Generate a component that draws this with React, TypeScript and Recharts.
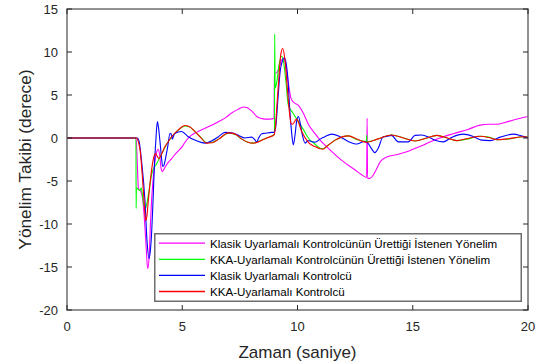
import React from 'react';
import { LineChart, Line, XAxis, YAxis } from 'recharts';

// Time (s) and heading (deg) samples
const classicDesiredT = [0, 2.98, 3.0, 3.05, 3.1, 3.2, 3.3, 3.36, 3.43, 3.5, 3.57, 3.62, 3.67, 3.73, 3.79, 3.89, 3.96, 4.02, 4.08, 4.14, 4.25, 4.4, 4.54, 4.69, 4.83, 5.0, 5.12, 5.3, 5.5, 5.8, 6.13, 6.57, 6.9, 7.14, 7.4, 7.65, 7.8, 7.94, 8.1, 8.23, 8.4, 8.59, 8.8, 8.98, 9.0, 9.1, 9.2, 9.3, 9.41, 9.5, 9.6, 9.72, 9.85, 10.04, 10.25, 10.47, 10.76, 11.0, 11.34, 11.92, 12.49, 12.8, 13.0, 13.02, 13.04, 13.12, 13.29, 13.45, 13.58, 13.87, 14.37, 14.74, 15.3, 15.8, 16.18, 16.76, 17.4, 17.92, 18.3, 18.64, 19.0, 19.37, 20];
const classicDesiredV = [0, 0, 0, -3, -5.9, -6.2, -7.5, -9.5, -12.5, -15.2, -13.5, -10, -7.2, -5, -3.3, -1.6, -1.3, -2.0, -3.5, -3.9, -3.4, -2.8, -2.4, -1.9, -1.5, -1.0, -0.5, 0.1, 0.5, 0.9, 1.3, 1.9, 2.4, 2.9, 3.3, 3.6, 3.55, 3.3, 2.9, 2.5, 2.3, 2.2, 2.2, 2.3, 7.5, 7.6, 8.2, 9.0, 9.3, 8.3, 6.5, 4.6, 4.1, 3.8, 2.9, 1.6, 0.5, -0.3, -1.2, -2.6, -3.7, -4.3, -4.6, 2.3, -4.7, -4.7, -4.3, -3.5, -2.8, -2.2, -1.9, -1.6, -1.0, -0.4, 0.0, 0.5, 1.0, 1.5, 1.6, 1.6, 1.8, 2.1, 2.5];

const kkaDesiredT = [0, 2.99, 3.0, 3.01, 3.1, 3.17, 3.22, 3.3, 3.38, 3.45, 3.56, 3.7, 3.89, 4.11, 4.4, 4.6, 4.76, 4.95, 5.12, 5.3, 5.55, 5.8, 6.06, 6.3, 6.6, 7.0, 7.3, 7.57, 7.85, 8.08, 8.3, 8.66, 8.98, 9.0, 9.01, 9.03, 9.1, 9.2, 9.31, 9.4, 9.5, 9.6, 9.8, 10.04, 10.25, 10.47, 10.75, 10.98, 11.1, 11.3, 11.63, 12.2, 12.6, 12.99, 13.0, 13.01, 13.4, 14.08, 14.6, 15.1, 15.6, 16.04, 16.5, 16.9, 17.4, 17.92, 18.3, 18.64, 19.1, 19.8, 20];
const kkaDesiredV = [0, 0, -8.2, -5.8, -6.0, -6.1, -5.8, -7.2, -8.2, -7.8, -6.1, -3.9, -3.0, -1.8, -0.4, 0.3, 0.75, 1.2, 1.4, 1.3, 0.75, 0.1, -0.55, -0.5, -0.1, 0.55, 0.4, -0.1, -0.5, -0.6, -0.4, 0.0, 0.4, 0.45, 12.1, 5.8, 6.5, 8.5, 9.5, 8.8, 6.5, 3.85, 2.9, 1.9, 1.0, 0.0, -0.7, -1.2, -1.25, -0.9, -0.25, 0.25, -0.2, -0.4, 0.3, -0.45, -0.2, 0.35, 0.0, -0.35, 0.0, 0.3, 0.0, -0.3, -0.1, 0.2, 0.1, -0.2, -0.15, 0.15, 0.15];

const classicCtrlT = [0, 3.05, 3.12, 3.24, 3.38, 3.47, 3.56, 3.62, 3.67, 3.73, 3.79, 3.85, 3.92, 3.97, 4.03, 4.1, 4.15, 4.2, 4.28, 4.37, 4.47, 4.52, 4.57, 4.63, 4.69, 4.97, 5.26, 5.6, 5.99, 6.3, 6.57, 6.86, 7.14, 7.45, 7.72, 8.01, 8.15, 8.23, 8.3, 8.45, 8.59, 8.88, 8.98, 9.05, 9.15, 9.25, 9.35, 9.43, 9.5, 9.57, 9.67, 9.75, 9.82, 9.9, 9.96, 10.04, 10.12, 10.21, 10.33, 10.45, 10.6, 10.76, 11.0, 11.19, 11.48, 11.84, 12.2, 12.57, 12.9, 13.05, 13.2, 13.36, 13.5, 13.72, 13.8, 14.08, 14.37, 14.81, 15.1, 15.39, 15.7, 16.0, 16.33, 16.7, 17.2, 17.6, 17.99, 18.35, 18.8, 19.37, 19.7, 20];
const classicCtrlV = [0, 0, -0.3, -2.8, -7.2, -11.9, -14.0, -13.0, -11.1, -7.5, -3.3, -0.5, 1.9, 1.2, -0.3, -2.3, -3.3, -3.2, -2.3, -1.0, 0.55, 0.45, -0.15, 0.3, 0.55, 0.75, 0.15, -0.3, -0.6, -0.3, 0.15, 0.65, 0.6, 0.3, 0.0, 0.1, -0.2, -0.5, -0.1, 0.5, 0.55, 0.65, 0.65, 1.2, 4.5, 7.8, 9.0, 9.3, 8.8, 7.3, 3.1, 0.5, -0.8, 0.5, 1.9, 2.5, 1.7, 0.35, -0.6, -0.3, -0.4, -0.5, -0.1, 0.15, 0.45, 0.15, -0.4, -0.7, -0.4, -0.6, -1.2, -1.7, -1.2, 0.15, 0.15, 0.3, -0.45, -0.45, 0.3, 0.35, 0.1, -0.3, -0.45, 0.1, 0.45, 0.2, -0.25, -0.3, 0.1, 0.45, 0.25, 0.0];

const kkaCtrlT = [0, 3.02, 3.1, 3.17, 3.27, 3.34, 3.41, 3.47, 3.53, 3.6, 3.67, 3.79, 3.84, 3.89, 3.99, 4.1, 4.25, 4.4, 4.54, 4.83, 5.12, 5.3, 5.55, 5.8, 6.06, 6.3, 6.6, 7.0, 7.3, 7.57, 7.85, 8.08, 8.3, 8.66, 8.98, 9.05, 9.1, 9.2, 9.28, 9.36, 9.45, 9.57, 9.65, 9.72, 9.78, 9.96, 10.18, 10.47, 10.76, 10.98, 11.1, 11.3, 11.63, 12.2, 12.6, 13.0, 13.5, 14.08, 14.6, 15.1, 15.6, 16.04, 16.5, 16.9, 17.4, 17.92, 18.3, 18.64, 19.1, 19.8, 20];
const kkaCtrlV = [0, 0, -0.5, -1.4, -4.5, -7.2, -9.6, -9.0, -7.2, -5.3, -3.7, -2.0, -1.8, -2.0, -2.4, -1.9, -1.0, -0.4, 0.15, 0.95, 1.45, 1.35, 0.75, 0.05, -0.6, -0.55, -0.1, 0.6, 0.45, -0.1, -0.5, -0.6, -0.45, 0.0, 0.35, 1.5, 3.5, 7.3, 9.8, 10.4, 9.2, 5.4, 3.0, 1.7, 1.6, 2.2, 0.75, -0.5, -1.0, -1.25, -1.3, -0.9, -0.25, 0.25, -0.15, -0.5, -0.1, 0.35, 0.0, -0.35, 0.0, 0.3, 0.0, -0.3, -0.05, 0.2, 0.05, -0.2, -0.1, 0.15, 0.1];

const xTicks = [0, 5, 10, 15, 20];
const yTicks = [-20, -15, -10, -5, 0, 5, 10, 15];

const seriesNames = [
  'Klasik Uyarlamalı Kontrolcünün Ürettiği İstenen Yönelim',
  'KKA-Uyarlamalı Kontrolcünün Ürettiği İstenen Yönelim',
  'Klasik Uyarlamalı Kontrolcü',
  'KKA-Uyarlamalı Kontrolcü',
];
const seriesColors = ['#ff00ff', '#00ff00', '#0000ff', '#ff0000'];

const toData = (t: number[], v: number[]) => t.map((x, i) => ({ t: x, v: v[i] }));

const FONT = '"Liberation Sans", Arial, Helvetica, sans-serif';
const AXIS_COLOR = '#262626';
const BOX_COLOR = '#6e6e6e';
const X_MIN = 0, X_MAX = 20, Y_MIN = -20, Y_MAX = 15;

// chart geometry (same numbers feed the chart margins and the axis-box frame)
const W = 545, H = 364;
const M = { top: 9, right: 17, bottom: 24, left: 0 };
const Y_AXIS_W = 67, X_AXIS_H = 30;
const PL = M.left + Y_AXIS_W, PR = W - M.right, PT = M.top, PB = H - M.bottom - X_AXIS_H;
const PW = PR - PL, PH = PB - PT;
const PAD = 3;
const fx = (x: number) => PAD + ((x - X_MIN) / (X_MAX - X_MIN)) * PW;
const fy = (y: number) => PAD + PH - ((y - Y_MIN) / (Y_MAX - Y_MIN)) * PH;
const TICK = 5;

// Axis box: frame + inward ticks on all four sides, in a small svg over the plot area
const AxisBox = () => (
  <svg width={PW + 2 * PAD} height={PH + 2 * PAD} style={{ display: 'block' }}>
    <rect x={PAD} y={PAD} width={PW} height={PH} fill="none" stroke={BOX_COLOR} strokeWidth={1.5} />
    {xTicks.map((x) => (
      <g key={'x' + x}>
        <line x1={fx(x)} x2={fx(x)} y1={PAD} y2={PAD + TICK} stroke={AXIS_COLOR} strokeWidth={1} />
        <line x1={fx(x)} x2={fx(x)} y1={PAD + PH} y2={PAD + PH - TICK} stroke={AXIS_COLOR} strokeWidth={1} />
      </g>
    ))}
    {yTicks.map((y) => (
      <g key={'y' + y}>
        <line x1={PAD} x2={PAD + TICK} y1={fy(y)} y2={fy(y)} stroke={AXIS_COLOR} strokeWidth={1} />
        <line x1={PAD + PW} x2={PAD + PW - TICK} y1={fy(y)} y2={fy(y)} stroke={AXIS_COLOR} strokeWidth={1} />
      </g>
    ))}
  </svg>
);

const LegendBox = () => (
  <svg width={369} height={70} style={{ display: 'block' }}>
    <rect x={0.75} y={0.75} width={366.5} height={67.5} fill="#fff" stroke={BOX_COLOR} strokeWidth={1.5} />
    {seriesNames.map((name, i) => {
      const cy = 10.2 + i * 16.1;
      return (
        <g key={name}>
          <line x1={5} x2={51} y1={cy} y2={cy} stroke={seriesColors[i]} strokeWidth={1.3} />
          <text x={56} y={cy} dominantBaseline="central" fontFamily={FONT} fontSize={11.6} fill="#000">
            {name}
          </text>
        </g>
      );
    })}
  </svg>
);

export default function App() {
  const sets = [
    toData(classicDesiredT, classicDesiredV),
    toData(kkaDesiredT, kkaDesiredV),
    toData(classicCtrlT, classicCtrlV),
    toData(kkaCtrlT, kkaCtrlV),
  ];
  return (
    <div style={{ position: 'absolute', left: 0, top: 0, width: W, height: H, background: '#fff' }}>
      <LineChart width={W} height={H} margin={M}>
        <XAxis
          dataKey="t"
          type="number"
          domain={[X_MIN, X_MAX]}
          ticks={xTicks}
          allowDataOverflow
          height={X_AXIS_H}
          tickSize={0}
          tickMargin={12}
          axisLine={false}
          tickLine={false}
          tick={{ fill: AXIS_COLOR, fontSize: 13, fontFamily: FONT }}
          label={{
            content: () => (
              <text x={297.5} y={352} textAnchor="middle" dominantBaseline="central" fontFamily={FONT} fontSize={17} fill={AXIS_COLOR}>
                Zaman (saniye)
              </text>
            ),
          }}
        />
        <YAxis
          type="number"
          domain={[Y_MIN, Y_MAX]}
          ticks={yTicks}
          allowDataOverflow
          width={Y_AXIS_W}
          tickSize={0}
          tickMargin={9}
          axisLine={false}
          tickLine={false}
          tick={{ fill: AXIS_COLOR, fontSize: 13, fontFamily: FONT }}
          label={{
            content: () => (
              <text x={25} y={159.5} transform="rotate(-90 25 159.5)" textAnchor="middle" dominantBaseline="central" fontFamily={FONT} fontSize={17.3} fill={AXIS_COLOR}>
                Yönelim Takibi (derece)
              </text>
            ),
          }}
        />
        {sets.map((d, i) => (
          <Line
            key={seriesNames[i]}
            data={d}
            dataKey="v"
            name={seriesNames[i]}
            type="monotoneX"
            stroke={seriesColors[i]}
            strokeWidth={1.1}
            dot={false}
            activeDot={false}
            isAnimationActive={false}
          />
        ))}
      </LineChart>
      <div style={{ position: 'absolute', left: PL - PAD, top: PT - PAD, zIndex: 5, pointerEvents: 'none' }}>
        <AxisBox />
      </div>
      <div style={{ position: 'absolute', left: 154, top: 233, zIndex: 6 }}>
        <LegendBox />
      </div>
    </div>
  );
}
